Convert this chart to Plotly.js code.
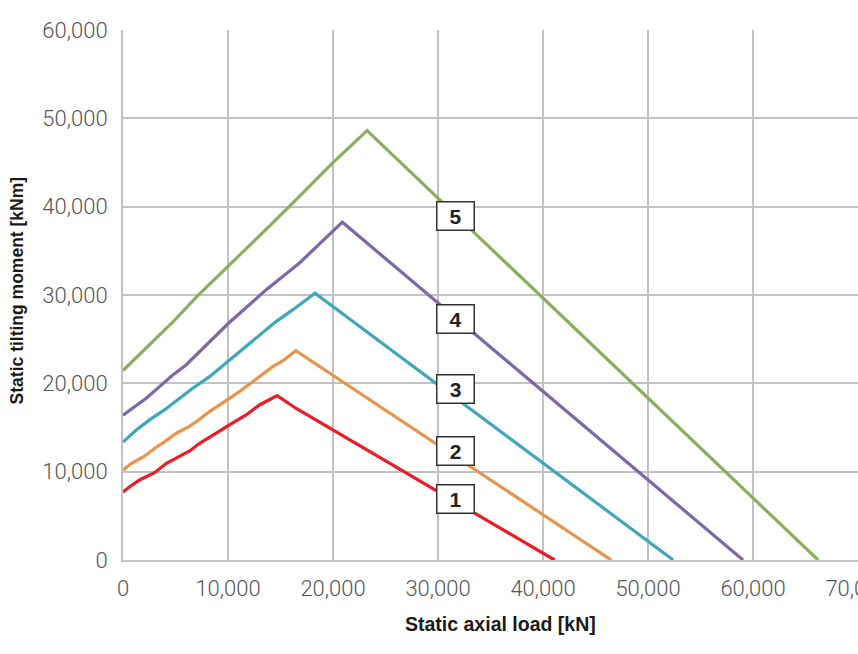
<!DOCTYPE html>
<html>
<head>
<meta charset="utf-8">
<script src="https://cdn.plot.ly/plotly-3.0.1.min.js"></script>
<style>
  html, body { margin: 0; padding: 0; background: #fff; }
  #myGraph { width: 858px; height: 654px; }
</style>
</head>
<body>
<div id="myGraph"></div>
<script>
// curve numbers shown in the boxes
let curveNames = ['1', '2', '3', '4', '5'];
let curveColors = ['#ec1c24', '#e8954b', '#3ea7ba', '#7c68a6', '#8aaf5c'];

// static axial load [kN] / static tilting moment [kNm]
let load1 = [0, 640, 1580, 3000, 4140, 5400, 6350, 7300, 8560, 10140, 11720, 12990, 14680, 16460, 41100];
let moment1 = [7700, 8300, 9060, 9890, 10950, 11780, 12340, 13210, 14160, 15290, 16420, 17550, 18600, 17180, 0];

let load2 = [0, 820, 2080, 3030, 3980, 5080, 6190, 6980, 8240, 9980, 11090, 12350, 14250, 15200, 16460, 46500];
let moment2 = [10200, 10950, 11780, 12650, 13400, 14350, 15030, 15660, 16800, 18200, 19060, 20190, 21890, 22540, 23700, 0];

let load3 = [0, 1260, 2530, 3950, 5400, 6640, 8240, 10000, 11400, 14570, 16150, 18290, 52400];
let moment3 = [13350, 14720, 15860, 16990, 18310, 19440, 20760, 22500, 23900, 26990, 28310, 30200, 0];

let load4 = [0, 950, 2210, 3480, 4740, 6000, 7300, 10050, 13620, 16780, 20890, 59050];
let moment4 = [16380, 17180, 18310, 19630, 20950, 22080, 23600, 26800, 30580, 33600, 38240, 0];

let load5 = [0, 2870, 4850, 7100, 9190, 12990, 15830, 20090, 23250, 66200];
let moment5 = [21450, 24720, 27080, 29900, 32280, 36700, 40000, 45100, 48600, 0];

// where the numbered boxes sit
let labelX = [31660, 31660, 31660, 31660, 31660];
let labelY = [6900, 12340, 19400, 27290, 38960];

let loads = [load1, load2, load3, load4, load5];
let moments = [moment1, moment2, moment3, moment4, moment5];

let data = loads.map((x, i) => ({
    type: 'scatter',
    mode: 'lines',
    name: curveNames[i],
    x: x,
    y: moments[i],
    line: { color: curveColors[i], width: 3.2 },
    hoverinfo: 'skip'
}));

let boxFont = { family: 'Liberation Sans, Arial, sans-serif', size: 21, color: '#222' };
let boxes = curveNames.map((t, i) => ({
    x: labelX[i],
    y: labelY[i],
    text: '<b>' + t + '</b>',
    showarrow: false,
    bgcolor: '#ffffff',
    bordercolor: '#333333',
    borderwidth: 1.5,
    borderpad: 1,
    width: 34,
    height: 25,
    font: boxFont
}));

let titleFamily = 'Liberation Sans, Arial, sans-serif';

// axis titles as annotations so they sit where the reference has them
boxes.push({
    xref: 'paper', yref: 'paper',
    x: 0.514, y: -0.121,
    xanchor: 'center', yanchor: 'middle',
    text: '<b>Static axial load [kN]</b>',
    showarrow: false,
    font: { family: titleFamily, size: 19.5, color: '#1a1a1a' }
});
boxes.push({
    xref: 'paper', yref: 'paper',
    x: -0.144, y: 0.509,
    xanchor: 'center', yanchor: 'middle',
    textangle: -90,
    text: '<b>Static tilting moment [kNm]</b>',
    showarrow: false,
    font: { family: titleFamily, size: 17.5, color: '#1a1a1a' }
});

let gridColor = '#c2c2c6';
let tickFont = { family: 'Roboto, sans-serif', weight: 300, size: 22, color: '#555555' };

let layout = {
    width: 858,
    height: 654,
    margin: { l: 123, r: 0, t: 30, b: 94 },
    paper_bgcolor: '#ffffff',
    plot_bgcolor: '#ffffff',
    showlegend: false,
    xaxis: {
        range: [0, 70000],
        tickvals: [0, 10000, 20000, 30000, 40000, 50000, 60000, 70000],
        tickformat: ',d',
        showgrid: true,
        gridcolor: gridColor,
        gridwidth: 2,
        showline: true,
        linecolor: gridColor,
        linewidth: 2,
        zeroline: false,
        ticks: 'outside',
        ticklen: 8,
        tickcolor: 'rgba(0,0,0,0)',
        ticklabeloverflow: 'allow',
        tickfont: tickFont
    },
    yaxis: {
        range: [0, 60000],
        dtick: 10000,
        tickformat: ',d',
        showgrid: true,
        gridcolor: gridColor,
        gridwidth: 2,
        showline: true,
        linecolor: gridColor,
        linewidth: 2,
        zeroline: false,
        ticks: 'outside',
        ticklen: 9,
        tickcolor: 'rgba(0,0,0,0)',
        tickfont: tickFont
    },
    annotations: boxes
};

Plotly.newPlot('myGraph', data, layout, { displayModeBar: false, staticPlot: true });
</script>
</body>
</html>
